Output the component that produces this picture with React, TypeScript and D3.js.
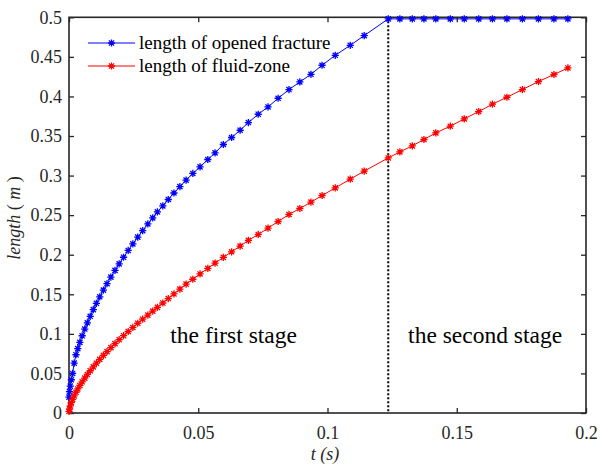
import * as d3 from "d3";
import { useEffect, useRef } from "react";

// time steps (s), shared by both curves
const tValues = [
  0, 0.0002, 0.0005, 0.0009, 0.0014, 0.002, 0.0027, 0.0034, 0.0042, 0.0051,
  0.0061, 0.0071, 0.0082, 0.0094, 0.0106, 0.0119, 0.0133, 0.0147, 0.0162, 0.0178,
  0.0194, 0.0211, 0.0229, 0.0247, 0.0266, 0.0285, 0.0305, 0.0324, 0.0342, 0.0363,
  0.0384, 0.0406, 0.0429, 0.0453, 0.0479, 0.0507, 0.0537, 0.0565, 0.0597, 0.0629,
  0.0662, 0.0694, 0.0732, 0.077, 0.0809, 0.0851, 0.0893, 0.0936, 0.0979, 0.103,
  0.1088, 0.1142, 0.1235, 0.128, 0.1328, 0.1373, 0.1419, 0.1475, 0.1529, 0.1585,
  0.1638, 0.1694, 0.1754, 0.1816, 0.1876, 0.193,
];

const openedLength = [
  0.02, 0.027, 0.034, 0.042, 0.05, 0.063, 0.0736, 0.0813, 0.0893, 0.0976,
  0.1061, 0.114, 0.1222, 0.1306, 0.1386, 0.1468, 0.1553, 0.1634, 0.1717, 0.1802,
  0.1884, 0.1968, 0.2054, 0.2137, 0.2222, 0.2304, 0.2389, 0.2466, 0.2542, 0.2617,
  0.2698, 0.278, 0.286, 0.2942, 0.3027, 0.311, 0.3203, 0.3287, 0.3393, 0.3481,
  0.3573, 0.367, 0.3775, 0.3867, 0.3977, 0.4087, 0.4183, 0.428, 0.4394, 0.452,
  0.4646, 0.4769, 0.498, 0.498, 0.498, 0.498, 0.498, 0.498, 0.498, 0.498,
  0.498, 0.498, 0.498, 0.498, 0.498, 0.498,
];

const fluidLength = [
  0.002, 0.005, 0.0089, 0.013, 0.0172, 0.0216, 0.0262, 0.0304, 0.0348, 0.0394,
  0.0441, 0.0487, 0.0534, 0.0583, 0.0629, 0.0678, 0.0728, 0.0776, 0.0826, 0.0877,
  0.0926, 0.0977, 0.103, 0.1081, 0.1134, 0.1185, 0.1237, 0.1287, 0.1335, 0.139,
  0.1446, 0.1504, 0.1565, 0.1629, 0.169, 0.1757, 0.1828, 0.1894, 0.1966, 0.2037,
  0.2109, 0.2181, 0.2256, 0.2336, 0.242, 0.2509, 0.2584, 0.2664, 0.2748, 0.2845,
  0.2955, 0.3056, 0.3223, 0.3299, 0.3375, 0.3456, 0.3539, 0.3624, 0.3716, 0.3809,
  0.3902, 0.399, 0.4087, 0.4188, 0.4277, 0.436,
];

const stageTime = 0.1235;
const xTicks = [0, 0.05, 0.1, 0.15, 0.2];
const yTicks = [0, 0.05, 0.1, 0.15, 0.2, 0.25, 0.3, 0.35, 0.4, 0.45, 0.5];
const seriesNames = ["length of opened fracture", "length of fluid-zone"];
const stageNames = ["the first stage", "the second stage"];

const WIDTH = 600;
const HEIGHT = 465;
const FONT = "Liberation Serif, Tinos, Times New Roman, DejaVu Serif, serif";
const AXIS_COLOR = "#262626";

// matlab style '*' marker
function star(r: number) {
  const d = r * 0.72;
  return `M${-r},0H${r}M0,${-r}V${r}M${-d},${-d}L${d},${d}M${-d},${d}L${d},${-d}`;
}

export default function App() {
  const ref = useRef<SVGSVGElement>(null);

  useEffect(() => {
    const svg = d3.select(ref.current);
    svg.selectAll("*").remove();

    const left = 69, right = 586, top = 17.3, bottom = 413;
    const x = d3.scaleLinear().domain([0, 0.2]).range([left, right]);
    const y = d3.scaleLinear().domain([0, 0.5]).range([bottom, top]);

    const fmt = (d: d3.NumberValue) => String(+d);

    const xAxis = svg.append("g")
      .attr("transform", `translate(0,${bottom})`)
      .call(d3.axisBottom(x).tickValues(xTicks).tickSizeInner(-5).tickSizeOuter(0).tickPadding(13).tickFormat(fmt));
    const yAxis = svg.append("g")
      .attr("transform", `translate(${left},0)`)
      .call(d3.axisLeft(y).tickValues(yTicks).tickSizeInner(-5).tickSizeOuter(0).tickPadding(7).tickFormat(fmt));
    const topAxis = svg.append("g")
      .attr("transform", `translate(0,${top})`)
      .call(d3.axisTop(x).tickValues(xTicks).tickSizeInner(-5).tickSizeOuter(0).tickFormat(() => ""));
    const rightAxis = svg.append("g")
      .attr("transform", `translate(${right},0)`)
      .call(d3.axisRight(y).tickValues(yTicks).tickSizeInner(-5).tickSizeOuter(0).tickFormat(() => ""));

    [xAxis, yAxis, topAxis, rightAxis].forEach((g) => {
      g.attr("font-family", FONT).attr("font-size", 18);
      g.select(".domain").remove();
      g.selectAll("line").attr("stroke", AXIS_COLOR).attr("stroke-width", 1.3);
      g.selectAll("text").attr("fill", AXIS_COLOR);
    });

    // box
    svg.append("rect")
      .attr("x", left).attr("y", top)
      .attr("width", right - left).attr("height", bottom - top)
      .attr("fill", "none")
      .attr("stroke", AXIS_COLOR)
      .attr("stroke-width", 1.6);

    // stage separator
    svg.append("line")
      .attr("x1", x(stageTime)).attr("x2", x(stageTime))
      .attr("y1", top).attr("y2", bottom)
      .attr("stroke", "#000")
      .attr("stroke-width", 2)
      .attr("stroke-dasharray", "2,2");

    const series = [
      { values: openedLength, color: "#0000ff" },
      { values: fluidLength, color: "#ff0000" },
    ];

    const lineGen = d3.line<number>()
      .x((_, i) => x(tValues[i]))
      .y((d) => y(d));

    series.forEach((s) => {
      svg.append("path")
        .attr("d", lineGen(s.values))
        .attr("fill", "none")
        .attr("stroke", s.color)
        .attr("stroke-width", 1);

      svg.append("g")
        .selectAll("path")
        .data(s.values)
        .join("path")
        .attr("transform", (d, i) => `translate(${x(tValues[i])},${y(d)})`)
        .attr("d", star(3.6))
        .attr("fill", "none")
        .attr("stroke", s.color)
        .attr("stroke-width", 1.3);
    });

    // legend
    const legend = svg.append("g")
      .attr("font-family", FONT).attr("font-size", 19);
    series.forEach((s, i) => {
      const ly = 43 + i * 23;
      legend.append("line")
        .attr("x1", 88).attr("x2", 135)
        .attr("y1", ly).attr("y2", ly)
        .attr("stroke", s.color).attr("stroke-width", 1);
      legend.append("path")
        .attr("transform", `translate(111.5,${ly})`)
        .attr("d", star(3.6))
        .attr("fill", "none")
        .attr("stroke", s.color)
        .attr("stroke-width", 1.3);
      legend.append("text")
        .attr("x", 139).attr("y", ly)
        .attr("dy", "0.33em")
        .attr("fill", "#000")
        .text(seriesNames[i]);
    });

    // stage labels
    const stages = svg.append("g")
      .attr("font-family", FONT).attr("font-size", 23.5)
      .attr("text-anchor", "middle");
    stages.append("text")
      .attr("x", x((0 + stageTime) / 2) + 5).attr("y", 343)
      .text(stageNames[0]);
    stages.append("text")
      .attr("x", x((stageTime + 0.2) / 2) - 2).attr("y", 343)
      .text(stageNames[1]);

    // axis titles
    const xt = svg.append("text")
      .attr("x", 325).attr("y", 460)
      .attr("text-anchor", "middle")
      .attr("font-family", FONT).attr("font-size", 18)
      .attr("fill", AXIS_COLOR);
    xt.append("tspan").attr("font-style", "italic").text("t (s)");

    const yt = svg.append("text")
      .attr("transform", "translate(20,218) rotate(-90)")
      .attr("text-anchor", "middle")
      .attr("font-family", FONT).attr("font-size", 18)
      .attr("fill", AXIS_COLOR);
    yt.append("tspan").attr("font-style", "italic").text("length");
    yt.append("tspan").text(" ( ");
    yt.append("tspan").attr("font-style", "italic").text("m");
    yt.append("tspan").text(" )");
  }, []);

  return (
    <svg
      ref={ref}
      width={WIDTH}
      height={HEIGHT}
      style={{ position: "absolute", left: 0, top: 0, background: "#fff" }}
    />
  );
}
